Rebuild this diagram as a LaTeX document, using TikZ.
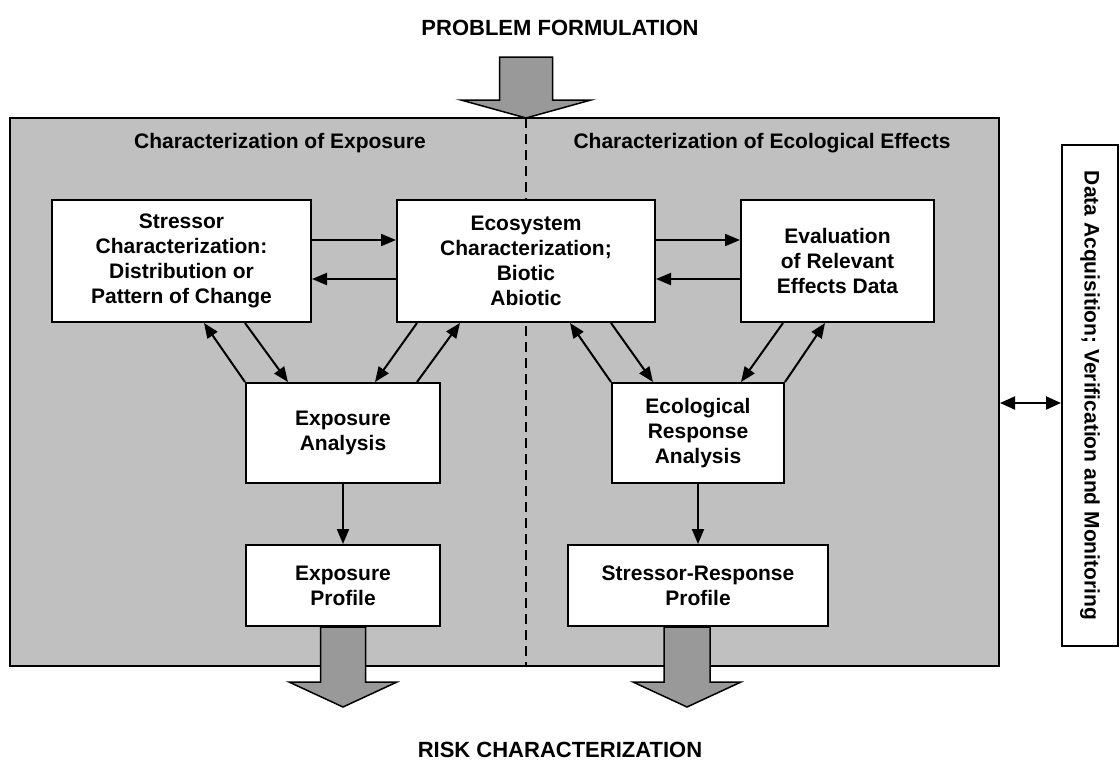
\documentclass[tikz,border=0pt]{standalone}
\usepackage{fontspec}
\setmainfont{Liberation Sans}
\usetikzlibrary{arrows.meta,calc}
\definecolor{panelgray}{HTML}{C0C0C0}
\definecolor{arrowgray}{HTML}{999999}
\begin{document}
\begin{tikzpicture}[x=1pt,y=-1pt,
  every node/.style={font=\fontsize{21}{25}\selectfont\bfseries},
  box/.style={draw, line width=2pt, fill=white, align=center, inner sep=0pt},
  link/.style={line width=2pt, -{Triangle[length=15pt,width=12pt]}},
  twoway/.style={line width=2pt, {Triangle[length=15pt,width=13pt]}-{Triangle[length=15pt,width=13pt]}},
  bigarrow/.style={draw, line width=1.5pt, fill=arrowgray, line join=miter},
  title/.style={font=\fontsize{22}{26}\selectfont\bfseries, anchor=base},
  ]
\useasboundingbox (0,0) rectangle (1120,761);

% analysis panel and the dividing line between its halves
\node[draw, line width=2pt, fill=panelgray, minimum width=989pt, minimum height=548pt, inner sep=0pt] (panel) at (504.5,392) {};
\coordinate (divtop) at (526,118);
\coordinate (divbot) at (526,666);
\draw[line width=1.5pt, dash pattern=on 10pt off 6pt] (divtop) -- (divbot);

% half headings
\node[anchor=base] (hexp) at (280,148) {Characterization of Exposure};
\node[anchor=base] (heff) at (762,148) {Characterization of Ecological Effects};

% process boxes
\node[box, minimum width=259pt, minimum height=122pt] (stressor) at (181.5,261) {Stressor\\Characterization:\\Distribution or\\Pattern of Change};
\node[box, minimum width=258pt, minimum height=122pt] (eco) at (526,261) {Ecosystem\\Characterization;\\Biotic\\Abiotic};
\node[box, minimum width=193pt, minimum height=122pt] (eval) at (837.5,261) {Evaluation\\of Relevant\\Effects Data};
\node[box, minimum width=194pt, minimum height=100pt] (expA) at (343,433) {Exposure\\Analysis};
\node[box, minimum width=172pt, minimum height=100pt] (era) at (698,433) {Ecological\\Response\\Analysis};
\node[box, minimum width=194pt, minimum height=81pt] (expP) at (343,585.5) {Exposure\\Profile};
\node[box, minimum width=260pt, minimum height=81pt] (srp) at (698,585.5) {Stressor-Response\\Profile};

% horizontal exchanges between the top boxes
\draw[link] ($(stressor.north east)+(0,41)$) -- ($(eco.north west)+(0,41)$);
\draw[link] ($(eco.north west)+(0,80)$) -- ($(stressor.north east)+(0,80)$);
\draw[link] ($(eco.north east)+(0,41)$) -- ($(eval.north west)+(0,41)$);
\draw[link] ($(eval.north west)+(0,80)$) -- ($(eco.north east)+(0,80)$);

% exposure analysis links
\draw[link] (expA.north west) -- ($(stressor.south west)+(153,0)$);
\draw[link] ($(stressor.south west)+(194,0)$) -- ($(expA.north west)+(43,0)$);
\draw[link] ($(eco.south west)+(21,0)$) -- ($(expA.north west)+(130,0)$);
\draw[link] ($(expA.north west)+(172,0)$) -- ($(eco.south west)+(64,0)$);

% ecological response analysis links
\draw[link] ($(eco.south west)+(215,0)$) -- ($(era.north west)+(42,0)$);
\draw[link] (era.north west) -- ($(eco.south west)+(174,0)$);
\draw[link] ($(eval.south west)+(43,0)$) -- ($(era.north west)+(130,0)$);
\draw[link] (era.north east) -- ($(eval.south west)+(85,0)$);

% analyses to profiles
\draw[link] (expA.south) -- (expP.north);
\draw[link] (era.south) -- (srp.north);

% wide block arrows
\draw[bigarrow] ($(divtop)+(-26.5,-61)$) -- ($(divtop)+(26.5,-61)$) -- ($(divtop)+(26.5,-18)$)
  -- ($(divtop)+(65,-18)$) -- (divtop) -- ($(divtop)+(-65,-18)$) -- ($(divtop)+(-26.5,-18)$) -- cycle;
\draw[bigarrow] ($(expP.south)+(-22.5,0)$) -- ($(expP.south)+(-22.5,55)$) -- ($(expP.south)+(-54,55)$)
  -- ($(expP.south)+(0,80)$) -- ($(expP.south)+(54,55)$) -- ($(expP.south)+(22.5,55)$) -- ($(expP.south)+(22.5,0)$) -- cycle;
\draw[bigarrow] ($(srp.south)+(-34,0)$) -- ($(srp.south)+(-34,55)$) -- ($(srp.south)+(-65,55)$)
  -- ($(srp.south)+(-11,80)$) -- ($(srp.south)+(43,55)$) -- ($(srp.south)+(12,55)$) -- ($(srp.south)+(12,0)$) -- cycle;

% side box (rotated a quarter turn, so its south side faces the panel)
\node[draw, line width=2pt, rotate=-90, minimum width=501pt, minimum height=56pt, inner sep=0pt] (side) at (1090,395.5) {Data Acquisition; Verification and Monitoring};
\coordinate (dbl) at ($(panel.east)+(0,11)$);
\draw[twoway] (dbl) -- (dbl -| side.south);

% stage titles
\node[title] (pf) at (560,35) {PROBLEM FORMULATION};
\node[title] (rc) at (560,757) {RISK CHARACTERIZATION};
\end{tikzpicture}
\end{document}
